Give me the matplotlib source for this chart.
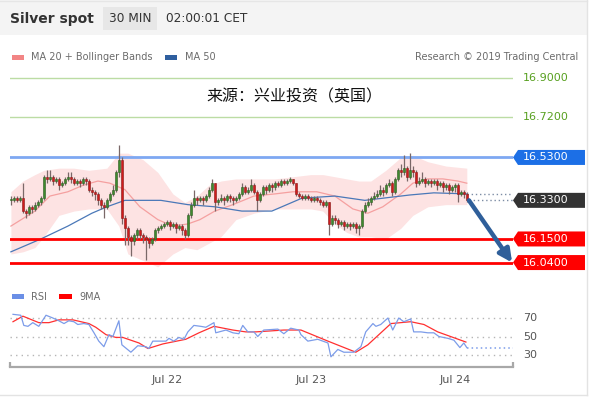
import numpy as np
import matplotlib
matplotlib.use("Agg")
import matplotlib.pyplot as plt
from matplotlib.patches import Rectangle, Polygon

# ---- price data (30 min bars) ----
closes = [16.33, 16.34, 16.33, 16.34, 16.28, 16.27, 16.30, 16.29, 16.31, 16.32,
          16.34, 16.44, 16.43, 16.44, 16.42, 16.43, 16.40, 16.41, 16.43, 16.44,
          16.43, 16.41, 16.42, 16.41, 16.43, 16.42, 16.38, 16.37, 16.36, 16.33,
          16.31, 16.30, 16.33, 16.36, 16.38, 16.46, 16.52, 16.25, 16.20, 16.16,
          16.14, 16.17, 16.19, 16.17, 16.16, 16.15, 16.13, 16.15, 16.19, 16.20,
          16.21, 16.22, 16.23, 16.21, 16.22, 16.20, 16.21, 16.19, 16.17, 16.26,
          16.31, 16.34, 16.33, 16.34, 16.33, 16.35, 16.38, 16.41, 16.32, 16.33,
          16.34, 16.33, 16.35, 16.34, 16.33, 16.34, 16.36, 16.39, 16.37, 16.38,
          16.40, 16.37, 16.33, 16.36, 16.39, 16.38, 16.40, 16.39, 16.41, 16.40,
          16.42, 16.41, 16.42, 16.43, 16.41, 16.36, 16.35, 16.34, 16.35, 16.34,
          16.33, 16.34, 16.33, 16.32, 16.31, 16.32, 16.22, 16.25, 16.24, 16.22,
          16.23, 16.21, 16.22, 16.21, 16.22, 16.20, 16.21, 16.28, 16.31, 16.32,
          16.34, 16.35, 16.36, 16.38, 16.37, 16.40, 16.41, 16.37, 16.43, 16.47,
          16.46, 16.48, 16.44, 16.47, 16.46, 16.41, 16.42, 16.43, 16.41, 16.42,
          16.41, 16.42, 16.40, 16.41, 16.39, 16.40, 16.38, 16.39, 16.40, 16.36,
          16.37, 16.36, 16.33]
first_open = 16.33
highs = [16.35, 16.35, 16.35, 16.35, 16.41, 16.29, 16.31, 16.31, 16.32, 16.33,
         16.35, 16.45, 16.47, 16.47, 16.45, 16.44, 16.44, 16.42, 16.44, 16.46,
         16.46, 16.44, 16.43, 16.43, 16.44, 16.44, 16.43, 16.39, 16.38, 16.37,
         16.34, 16.32, 16.34, 16.37, 16.40, 16.47, 16.59, 16.53, 16.26, 16.21,
         16.17, 16.18, 16.20, 16.20, 16.18, 16.17, 16.16, 16.16, 16.20, 16.21,
         16.22, 16.23, 16.24, 16.24, 16.23, 16.23, 16.22, 16.22, 16.20, 16.27,
         16.32, 16.38, 16.35, 16.35, 16.35, 16.36, 16.39, 16.43, 16.41, 16.34,
         16.36, 16.35, 16.36, 16.36, 16.35, 16.35, 16.37, 16.41, 16.40, 16.39,
         16.43, 16.41, 16.38, 16.37, 16.40, 16.40, 16.41, 16.41, 16.42, 16.42,
         16.43, 16.43, 16.43, 16.44, 16.43, 16.41, 16.37, 16.36, 16.36, 16.36,
         16.35, 16.35, 16.35, 16.34, 16.33, 16.33, 16.32, 16.26, 16.26, 16.25,
         16.24, 16.24, 16.23, 16.23, 16.23, 16.23, 16.22, 16.29, 16.32, 16.34,
         16.35, 16.37, 16.38, 16.40, 16.39, 16.41, 16.43, 16.42, 16.44, 16.48,
         16.50, 16.54, 16.49, 16.55, 16.49, 16.47, 16.44, 16.46, 16.44, 16.43,
         16.43, 16.43, 16.43, 16.42, 16.42, 16.41, 16.41, 16.40, 16.41, 16.41,
         16.38, 16.38, 16.37]
lows = [16.31, 16.32, 16.32, 16.32, 16.27, 16.25, 16.26, 16.27, 16.28, 16.30,
        16.31, 16.33, 16.41, 16.42, 16.40, 16.41, 16.38, 16.39, 16.40, 16.42,
        16.41, 16.40, 16.40, 16.39, 16.40, 16.40, 16.37, 16.35, 16.33, 16.31,
        16.29, 16.25, 16.29, 16.32, 16.35, 16.37, 16.44, 16.22, 16.12, 16.12,
        16.07, 16.12, 16.15, 16.15, 16.13, 16.05, 16.11, 16.12, 16.14, 16.18,
        16.19, 16.20, 16.21, 16.19, 16.20, 16.18, 16.19, 16.17, 16.15, 16.16,
        16.25, 16.30, 16.31, 16.32, 16.31, 16.32, 16.34, 16.37, 16.28, 16.31,
        16.32, 16.31, 16.32, 16.32, 16.31, 16.32, 16.33, 16.35, 16.36, 16.36,
        16.37, 16.36, 16.28, 16.32, 16.35, 16.36, 16.37, 16.37, 16.38, 16.39,
        16.39, 16.40, 16.40, 16.41, 16.40, 16.35, 16.34, 16.33, 16.33, 16.33,
        16.32, 16.32, 16.32, 16.31, 16.30, 16.30, 16.17, 16.21, 16.22, 16.20,
        16.21, 16.19, 16.20, 16.19, 16.20, 16.18, 16.17, 16.20, 16.27, 16.30,
        16.31, 16.33, 16.34, 16.35, 16.35, 16.36, 16.39, 16.35, 16.36, 16.42,
        16.44, 16.45, 16.42, 16.43, 16.44, 16.39, 16.40, 16.41, 16.39, 16.40,
        16.39, 16.40, 16.38, 16.39, 16.37, 16.38, 16.36, 16.37, 16.37, 16.32,
        16.35, 16.34, 16.32]

# indicators, sampled at bar positions
ma20_idx = [0, 8, 13, 19, 24, 29, 33, 38, 43, 49, 54, 59, 63, 68, 74, 81, 88, 94,
            102, 108, 114, 119, 124, 130, 134, 139, 144, 149, 152]
ma20_val = [16.21, 16.28, 16.35, 16.37, 16.40, 16.42, 16.41, 16.38, 16.30, 16.24,
            16.21, 16.22, 16.24, 16.28, 16.31, 16.35, 16.36, 16.37, 16.37, 16.35,
            16.29, 16.27, 16.30, 16.36, 16.41, 16.43, 16.43, 16.42, 16.41]
ma50_idx = [0, 10, 19, 27, 32, 38, 43, 50, 59, 68, 77, 87, 97, 108, 118, 124, 133, 141, 152]
ma50_val = [16.09, 16.15, 16.21, 16.27, 16.30, 16.33, 16.33, 16.33, 16.31, 16.30,
            16.28, 16.28, 16.34, 16.35, 16.33, 16.34, 16.355, 16.365, 16.36]
band_idx = [0, 4, 8, 11, 16, 21, 26, 32, 36, 39, 44, 49, 54, 58, 62, 66, 70, 75, 81,
            88, 94, 100, 104, 108, 112, 116, 120, 125, 130, 134, 139, 145, 152]
band_up = [16.37, 16.42, 16.45, 16.47, 16.48, 16.48, 16.47, 16.48, 16.55, 16.55, 16.52,
           16.46, 16.36, 16.32, 16.35, 16.40, 16.42, 16.43, 16.43, 16.43, 16.44, 16.45,
           16.45, 16.44, 16.43, 16.42, 16.42, 16.47, 16.53, 16.54, 16.51, 16.49, 16.48]
band_lo = [16.08, 16.09, 16.11, 16.16, 16.26, 16.28, 16.29, 16.29, 16.21, 16.08, 16.05,
           16.02, 16.08, 16.11, 16.10, 16.13, 16.16, 16.24, 16.27, 16.29, 16.29, 16.29,
           16.28, 16.22, 16.18, 16.16, 16.16, 16.15, 16.20, 16.26, 16.30, 16.31, 16.31]

rsi_idx = [0.7, 3.3, 4.3, 5.7, 7.3, 9.3, 11.7, 14, 16, 17.7, 19.3, 21, 22.3, 24.3, 26,
           27.7, 29.3, 31, 32.7, 34, 36, 37, 40, 42.3, 45, 46, 47.3, 49.3, 51.7, 52.7,
           54.3, 56, 57.7, 59, 61, 63.3, 65, 67.7, 68.3, 71.7, 74, 76, 77.3, 79, 81,
           82.3, 84.3, 89, 91, 93.3, 96, 96.7, 99, 102.3, 105.7, 106.7, 109, 111, 114.3,
           116.7, 118.3, 120.7, 121.7, 123.3, 125.7, 127.3, 129.3, 131, 133.3, 134.3,
           136.7, 139, 141, 142.7, 145.7, 147.7, 149.7, 151, 152]
rsi_val = [74, 73, 62, 61, 65, 61, 73, 70, 67, 64, 67, 66, 63, 64, 63,
           54, 45, 39, 52, 50, 67, 41, 33, 40, 39, 37, 45, 45, 45, 48,
           45, 49, 47, 55, 62, 61, 60, 65, 54, 57, 54, 53, 62, 55, 55,
           50, 57, 58, 53, 59, 57, 52, 45, 47, 43, 28, 36, 33, 33,
           39, 55, 64, 61, 63, 70, 57, 70, 66, 69, 55,
           55, 54, 54, 50, 48, 46, 38, 43, 38]
rsi_ma_idx = [0.7, 4, 9.3, 12.7, 16, 20.7, 26, 28.3, 31.7, 35, 37.3, 42.7, 45.7, 50.7,
              58.3, 62.7, 67.7, 74, 78.3, 81.7, 91, 96.7, 105.7, 115, 119, 126.7, 133.3,
              137.7, 142.3, 151.7]
rsi_ma_val = [66, 72, 65, 65, 68, 68, 64, 60, 52, 49, 49, 43, 37, 42,
              47, 54, 61, 57, 55, 55, 57, 57, 45, 33, 41, 64, 66,
              63, 55, 44]

levels_green = [16.90, 16.72]
level_res = 16.53
level_last = 16.33
levels_sup = [16.15, 16.04]
target = 16.04
rsi_levels = [70, 50, 30]
date_pos = [52, 100, 148]
date_labels = ["Jul 22", "Jul 23", "Jul 24"]

W, H = 590, 398
fig = plt.figure(figsize=(W / 100, H / 100), dpi=100)


def px_rect(l, t, r, b):
    return [l / W, (H - b) / H, (r - l) / W, (b - t) / H]


# overlay in pixel coords for frame / header
ov = fig.add_axes([0, 0, 1, 1], zorder=0)
ov.set_xlim(0, W)
ov.set_ylim(H, 0)
ov.axis("off")
ov.add_patch(Rectangle((0, 0), 587, 35, color="#f4f4f4", lw=0))
ov.plot([0, 587], [0.5, 0.5], color="#e6e6e6", lw=1)
ov.plot([587, 587], [0, 395], color="#e3e3e3", lw=1)
ov.plot([0, 587], [395, 395], color="#e3e3e3", lw=1)
ov.text(10, 18.5, "Silver spot", fontsize=10, fontweight="bold", color="#333333", va="center")
ov.add_patch(Rectangle((103, 7), 54, 23, color="#e7e7e7", lw=0))
ov.text(130, 18.5, "30 MIN", fontsize=8.7, color="#333333", va="center", ha="center")
ov.text(166, 18.5, "02:00:01 CET", fontsize=8.7, color="#333333", va="center")

ov.add_patch(Rectangle((12, 55), 12, 5, color="#f28585", lw=0))
ov.text(31, 57.5, "MA 20 + Bollinger Bands", fontsize=7, color="#6b6b6b", va="center")
ov.add_patch(Rectangle((165, 55), 12, 5, color="#2f5f9f", lw=0))
ov.text(185, 57.5, "MA 50", fontsize=7, color="#6b6b6b", va="center")
ov.text(578, 57.5, "Research \u00a9 2019 Trading Central", fontsize=7, color="#6b6b6b",
        va="center", ha="right")
ov.text(294, 97, "来源：兴业投资（英国）", fontsize=11.5, color="#111111", ha="center",
        va="center", family=["Noto Sans CJK SC", "DejaVu Sans"])

ov.add_patch(Rectangle((12, 294), 12, 5, color="#6b8fe6", lw=0))
ov.text(31, 296.5, "RSI", fontsize=7, color="#6b6b6b", va="center")
ov.add_patch(Rectangle((59, 294), 13, 5, color="#ff0000", lw=0))
ov.text(79, 296.5, "9MA", fontsize=7, color="#6b6b6b", va="center")

# ---- main price panel ----
ax = fig.add_axes(px_rect(10, 68, 513, 275), zorder=1)
ax.patch.set_alpha(0)
ax.axis("off")
xmin, xmax = -0.3, 167.4
ax.set_xlim(xmin, xmax)
ax.set_ylim(15.982, 16.947)
pxu = 1 / 214.5  # price per pixel

n = len(closes)
idx = np.arange(n)
c = np.array(closes)
o = np.concatenate([[first_open], c[:-1]])
h = np.array(highs)
lo = np.array(lows)

ax.fill_between(band_idx, band_lo, band_up, color="#fde3e3", lw=0, zorder=1)
ax.plot(ma20_idx, ma20_val, color="#f5a0a0", lw=0.9, zorder=2)
ax.plot(ma50_idx, ma50_val, color="#4a78b8", lw=0.9, zorder=2)

for lv in levels_green:
    ax.axhline(lv, color="#bcdca4", lw=1, zorder=1)
ax.axhline(level_res, color="#7ea8f2", lw=2, zorder=1)
for lv in levels_sup:
    ax.axhline(lv, color="#ff0000", lw=2, zorder=3)

up = c >= o
ax.vlines(idx, lo, h, color="#7a6868", lw=0.9, zorder=4)
body_h = np.maximum(np.abs(c - o), 0.004)
ax.bar(idx[up], body_h[up], bottom=np.minimum(o, c)[up], width=0.75,
       color="#3f8a2e", edgecolor="#2d5e22", lw=0.4, zorder=5)
ax.bar(idx[~up], body_h[~up], bottom=np.minimum(o, c)[~up], width=0.75,
       color="#d01c1c", edgecolor="#8a1a1a", lw=0.4, zorder=5)

# dotted last price / MA extension
ax.hlines(level_last, n - 0.3, xmax, colors="#7d8da5", linestyles=(0, (1, 2)), lw=1)
ax.hlines(ma50_val[-1], n - 1, xmax, colors="#7d8da5", linestyles=(0, (1, 2)), lw=1)

# forecast arrow
ax.annotate("", xy=(xmax - 0.3, target), xytext=(n - 0.3, level_last),
            arrowprops=dict(arrowstyle="-|>", color="#2f5f9a", lw=3.2,
                            mutation_scale=19, shrinkA=0, shrinkB=0), zorder=6)

# right side labels
x_tip = xmax
x_corner = xmax + 5 / 3.0
x_end = xmax + 72 / 3.0
x_txt = xmax + 10 / 3.0
hh = 7.5 * pxu


def tag(y, color, label):
    poly = Polygon([(x_tip, y), (x_corner, y + hh), (x_end, y + hh),
                    (x_end, y - hh), (x_corner, y - hh)], closed=True,
                   color=color, lw=0, clip_on=False, zorder=6)
    ax.add_patch(poly)
    ax.text(x_txt, y, label, color="white", fontsize=8, va="center", clip_on=False, zorder=7)


for lv in levels_green:
    ax.text(x_txt, lv, f"{lv:.4f}", color="#58a020", fontsize=8, va="center", clip_on=False)
tag(level_res, "#1c6fe6", f"{level_res:.4f}")
tag(level_last, "#333333", f"{level_last:.4f}")
for lv in levels_sup:
    tag(lv, "#ff0000", f"{lv:.4f}")

# ---- RSI panel ----
ar = fig.add_axes(px_rect(10, 300, 513, 367), zorder=1)
ar.patch.set_alpha(0)
ar.set_xlim(xmin, xmax)
ar.set_ylim(17.0, 89.5)
for s in ["top", "left", "right"]:
    ar.spines[s].set_visible(False)
ar.spines["bottom"].set_color("#a8a8a8")
ar.spines["bottom"].set_linewidth(1.6)
ar.set_yticks([])
for lv in rsi_levels:
    ar.axhline(lv, color="#b5b5b5", lw=1, linestyle=(0, (1, 3)))
    ar.text(x_txt, lv, str(lv), color="#555555", fontsize=8, va="center", clip_on=False)
ar.plot(rsi_ma_idx, rsi_ma_val, color="#ff3030", lw=0.9)
ar.plot(rsi_idx, rsi_val, color="#7c9ce9", lw=0.9)
ar.hlines(rsi_val[-1], rsi_idx[-1], xmax, colors="#7c9ce9", linestyles=(0, (1, 2)), lw=1.1)
ar.vlines([xmin, xmax], 17.0, 17.0 + 5 / 0.925, colors="#a8a8a8", lw=1.6, clip_on=False)
ar.set_xticks(date_pos)
ar.set_xticklabels(date_labels)
ar.tick_params(axis="x", length=0, pad=6, labelsize=8, labelcolor="#555555")

fig.savefig("out.png", dpi=100)
